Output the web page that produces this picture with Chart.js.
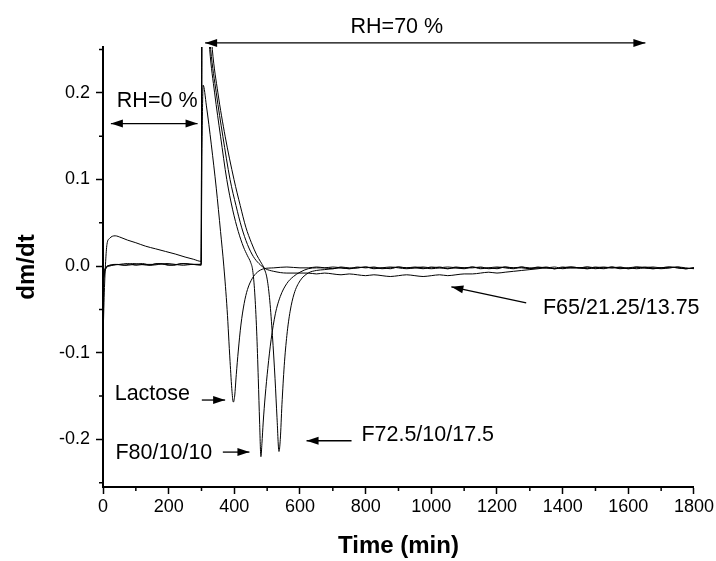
<!DOCTYPE html>
<html>
<head>
<meta charset="utf-8">
<script src="https://cdn.jsdelivr.net/npm/chart.js@4.4.0/dist/chart.umd.min.js"></script>
<style>
  html, body { margin: 0; padding: 0; background: #fff; }
</style>
</head>
<body>
<canvas id="chart" width="716" height="561"></canvas>
<script>
// values: time in min, dm/dt
var lactoseT = [0, 2, 5, 10, 20, 40, 65, 90, 115, 140, 165, 190, 215, 240, 265, 290, 299, 300.5, 302, 305,
  315, 330, 345, 358, 368, 378, 387, 393, 397, 401, 406, 412, 420, 430, 440, 455, 470, 490, 520, 560, 600];
var lactoseV = [-0.035, -0.02, -0.008, -0.002, 0.001, 0.002, 0.001, 0.003, 0.002, 0.001, 0.003, 0.002, 0.001, 0.003, 0.002, 0.002, 0.003, 0.08, 0.15, 0.209,
  0.185, 0.14, 0.09, 0.04, 0.0, -0.05, -0.11, -0.145, -0.157, -0.15, -0.125, -0.098, -0.068, -0.043, -0.027, -0.014, -0.007, -0.003, -0.002, -0.001, -0.002];

var f80T = [0, 3, 8, 20, 45, 70, 95, 120, 145, 170, 195, 220, 245, 270, 299, 300.5, 302, 315, 325, 340,
  358, 377, 395, 412, 428, 440, 450, 456, 462, 468, 473, 477, 481, 484, 488, 494, 502, 512, 525, 540, 560, 580, 600];
var f80V = [-0.02, -0.01, -0.003, 0.0, 0.002, 0.001, 0.002, 0.003, 0.001, 0.002, 0.003, 0.002, 0.001, 0.002, 0.002, 0.2, 0.42, 0.31, 0.25, 0.2,
  0.15, 0.10, 0.065, 0.04, 0.022, 0.012, 0.004, -0.005, -0.03, -0.075, -0.13, -0.18, -0.22, -0.205, -0.18, -0.15, -0.118, -0.085, -0.055, -0.035, -0.02, -0.012, -0.007];

var f725T = [0, 4, 12, 25, 50, 75, 100, 125, 150, 175, 200, 225, 250, 275, 299, 300.5, 302, 320, 333, 350,
  372, 399, 418, 435, 452, 468, 480, 490, 500, 508, 516, 524, 530, 536, 540, 545, 552, 560, 570, 582, 600];
var f725V = [-0.012, -0.005, 0.0, 0.001, 0.002, 0.003, 0.001, 0.002, 0.002, 0.003, 0.001, 0.002, 0.003, 0.002, 0.001, 0.2, 0.45, 0.32, 0.25, 0.2,
  0.15, 0.10, 0.07, 0.045, 0.027, 0.013, 0.005, -0.002, -0.015, -0.04, -0.08, -0.13, -0.175, -0.214, -0.2, -0.16, -0.115, -0.08, -0.052, -0.032, -0.017];

var f65T = [0, 4, 8, 12, 20, 37, 55, 75, 100, 130, 160, 190, 220, 250, 275, 299, 300.5, 302, 318, 328,
  345, 365, 387, 405, 422, 440, 458, 475, 495, 520, 560, 600];
var f65V = [-0.085, -0.03, 0.005, 0.025, 0.032, 0.035, 0.033, 0.030, 0.027, 0.023, 0.020, 0.017, 0.014, 0.0105, 0.008, 0.0055, 0.2, 0.42, 0.3, 0.25,
  0.2, 0.15, 0.10, 0.07, 0.045, 0.025, 0.011, 0.003, -0.003, -0.006, -0.008, -0.008];

// noisy flat part after 600 min, same times for every run
var tailT = [625, 650, 675, 700, 725, 750, 775, 800, 825, 850, 875, 900, 925, 950, 975, 1000,
  1025, 1050, 1075, 1100, 1125, 1150, 1175, 1200, 1225, 1250, 1275, 1300, 1325, 1350, 1375, 1400,
  1425, 1450, 1475, 1500, 1525, 1550, 1575, 1600, 1625, 1650, 1675, 1700, 1725, 1750, 1775, 1800];
var lactoseTail = [-0.002, -0.001, -0.002, -0.003, -0.001, -0.002, -0.002, -0.001, -0.003, -0.002,
  -0.001, -0.002, -0.003, -0.002, -0.001, -0.002, -0.001, -0.003, -0.002, -0.002,
  -0.001, -0.003, -0.002, -0.001, -0.002, -0.003, -0.001, -0.002, -0.002, -0.001,
  -0.003, -0.002, -0.001, -0.002, -0.003, -0.001, -0.002, -0.001, -0.003, -0.002,
  -0.001, -0.002, -0.003, -0.002, -0.001, -0.002, -0.003, -0.002];
var f80Tail = [-0.003, -0.002, -0.002, -0.001, -0.002, -0.003, -0.001, -0.002, -0.001, -0.003,
  -0.002, -0.001, -0.002, -0.002, -0.003, -0.001, -0.002, -0.003, -0.001, -0.002,
  -0.002, -0.001, -0.003, -0.002, -0.001, -0.002, -0.002, -0.003, -0.001, -0.002,
  -0.001, -0.003, -0.002, -0.002, -0.001, -0.003, -0.002, -0.002, -0.001, -0.003,
  -0.002, -0.001, -0.002, -0.003, -0.002, -0.001, -0.002, -0.003];
var f725Tail = [-0.008, -0.005, -0.004, -0.003, -0.002, -0.003, -0.002, -0.001, -0.002, -0.002,
  -0.003, -0.001, -0.002, -0.001, -0.002, -0.003, -0.002, -0.001, -0.002, -0.003,
  -0.001, -0.002, -0.002, -0.003, -0.001, -0.002, -0.001, -0.003, -0.002, -0.002,
  -0.003, -0.001, -0.002, -0.002, -0.001, -0.002, -0.003, -0.001, -0.002, -0.002,
  -0.003, -0.002, -0.001, -0.002, -0.002, -0.001, -0.003, -0.002];
var f65Tail = [-0.008, -0.009, -0.008, -0.009, -0.010, -0.009, -0.010, -0.011, -0.010, -0.011,
  -0.012, -0.011, -0.010, -0.011, -0.012, -0.011, -0.010, -0.011, -0.010, -0.009,
  -0.009, -0.008, -0.007, -0.008, -0.007, -0.006, -0.005, -0.004, -0.003, -0.002,
  -0.003, -0.002, -0.001, -0.002, -0.003, -0.002, -0.001, -0.002, -0.002, -0.003,
  -0.001, -0.002, -0.003, -0.002, -0.001, -0.002, -0.003, -0.002];

var xTicks = [0, 200, 400, 600, 800, 1000, 1200, 1400, 1600, 1800];
var xMinor = [100, 300, 500, 700, 900, 1100, 1300, 1500, 1700];
var yTicks = [-0.2, -0.1, 0, 0.1, 0.2];
var yMinor = [-0.25, -0.15, -0.05, 0.05, 0.15, 0.25];
var yMin = -0.255, yMax = 0.253;

var FONT = '"Liberation Sans", Arial, sans-serif';

function toPoints(ts, vs, tt, tv) {
  var pts = ts.map(function(t, i) { return {x: t, y: vs[i]}; });
  tt.forEach(function(t, i) { pts.push({x: t, y: tv[i]}); });
  return pts;
}

function run(name, pts) {
  return {
    label: name,
    data: pts,
    borderColor: '#000',
    borderWidth: 1,
    pointRadius: 0,
    fill: false,
    cubicInterpolationMode: 'monotone'
  };
}

function arrowHead(ctx, x1, y1, x2, y2) {
  // filled head at (x2, y2)
  var a = Math.atan2(y2 - y1, x2 - x1), len = 12, hw = 4;
  ctx.beginPath();
  ctx.moveTo(x2, y2);
  ctx.lineTo(x2 - len * Math.cos(a) + hw * Math.sin(a), y2 - len * Math.sin(a) - hw * Math.cos(a));
  ctx.lineTo(x2 - len * Math.cos(a) - hw * Math.sin(a), y2 - len * Math.sin(a) + hw * Math.cos(a));
  ctx.closePath();
  ctx.fill();
}

// minor ticks, half length of the major ones
var minorTicks = {
  id: 'minorTicks',
  afterDraw: function(chart) {
    var ctx = chart.ctx, xs = chart.scales.x, ys = chart.scales.y, a = chart.chartArea;
    ctx.save();
    ctx.strokeStyle = '#000';
    ctx.lineWidth = 1.5;
    ctx.beginPath();
    xMinor.forEach(function(v) {
      var px = xs.getPixelForValue(v);
      ctx.moveTo(px, a.bottom);
      ctx.lineTo(px, a.bottom + 4);
    });
    yMinor.forEach(function(v) {
      var py = ys.getPixelForValue(v);
      ctx.moveTo(a.left, py);
      ctx.lineTo(a.left - 4, py);
    });
    ctx.stroke();
    ctx.restore();
  }
};

// labels and arrows written on the plot
var notes = {
  id: 'notes',
  afterDraw: function(chart) {
    var ctx = chart.ctx, xs = chart.scales.x, ys = chart.scales.y;
    var texts = [
      {t: 'RH=0 %', x: 165, y: 0.1835, align: 'center'},
      {t: 'RH=70 %', x: 895, y: 0.2686, align: 'center'},
      {t: 'Lactose', x: 265, y: -0.1546, align: 'right'},
      {t: 'F80/10/10', x: 38, y: -0.2231, align: 'left'},
      {t: 'F72.5/10/17.5', x: 787, y: -0.2024, align: 'left'},
      {t: 'F65/21.25/13.75', x: 1340, y: -0.0554, align: 'left'}
    ];
    var arrows = [
      {x1: 24, y1: 0.1646, x2: 288, y2: 0.1646, both: true},
      {x1: 311, y1: 0.2577, x2: 1652, y2: 0.2577, both: true},
      {x1: 301, y1: -0.1546, x2: 372, y2: -0.1546},
      {x1: 365, y1: -0.2147, x2: 446, y2: -0.2147},
      {x1: 757, y1: -0.2016, x2: 620, y2: -0.2016},
      {x1: 1289, y1: -0.0424, x2: 1061, y2: -0.0239}
    ];
    ctx.save();
    ctx.fillStyle = '#000';
    ctx.strokeStyle = '#000';
    ctx.lineWidth = 1.3;
    ctx.font = '21.5px ' + FONT;
    ctx.textBaseline = 'alphabetic';
    texts.forEach(function(n) {
      ctx.textAlign = n.align;
      ctx.fillText(n.t, xs.getPixelForValue(n.x), ys.getPixelForValue(n.y));
    });
    arrows.forEach(function(r) {
      var x1 = xs.getPixelForValue(r.x1), y1 = ys.getPixelForValue(r.y1);
      var x2 = xs.getPixelForValue(r.x2), y2 = ys.getPixelForValue(r.y2);
      ctx.beginPath();
      ctx.moveTo(x1, y1);
      ctx.lineTo(x2, y2);
      ctx.stroke();
      arrowHead(ctx, x1, y1, x2, y2);
      if (r.both) arrowHead(ctx, x2, y2, x1, y1);
    });
    ctx.restore();
  }
};

var ctx = document.getElementById('chart').getContext('2d');
var chart = new Chart(ctx, {
  type: 'line',
  data: {
    datasets: [
      run('Lactose', toPoints(lactoseT, lactoseV, tailT, lactoseTail)),
      run('F80/10/10', toPoints(f80T, f80V, tailT, f80Tail)),
      run('F72.5/10/17.5', toPoints(f725T, f725V, tailT, f725Tail)),
      run('F65/21.25/13.75', toPoints(f65T, f65V, tailT, f65Tail))
    ]
  },
  options: {
    responsive: false,
    animation: false,
    layout: { padding: { top: 47, right: 21, left: 0, bottom: 0 } },
    plugins: { legend: { display: false }, tooltip: { enabled: false } },
    scales: {
      x: {
        type: 'linear',
        min: 0,
        max: 1800,
        afterBuildTicks: function(axis) { axis.ticks = xTicks.map(function(v) { return {value: v}; }); },
        afterFit: function(scale) { scale.height = 74; },
        border: { display: true, color: '#000', width: 2 },
        grid: { drawOnChartArea: false, drawTicks: true, tickLength: 7, tickColor: '#000', tickWidth: 1.5 },
        ticks: {
          color: '#000',
          font: { family: FONT, size: 18 },
          padding: 2,
          maxRotation: 0,
          autoSkip: false,
          callback: function(v) { return String(v); }
        },
        title: { display: true, text: 'Time (min)', color: '#000', font: { family: FONT, size: 24, weight: 'bold' }, padding: { top: 0, bottom: 0 } }
      },
      y: {
        min: yMin,
        max: yMax,
        afterBuildTicks: function(axis) { axis.ticks = yTicks.map(function(v) { return {value: v}; }); },
        afterFit: function(scale) { scale.width = 103; },
        border: { display: true, color: '#000', width: 2 },
        grid: { drawOnChartArea: false, drawTicks: true, tickLength: 7, tickColor: '#000', tickWidth: 1.5 },
        ticks: {
          color: '#000',
          font: { family: FONT, size: 18 },
          padding: 6,
          callback: function(v) { return v.toFixed(1); }
        },
        title: { display: true, text: 'dm/dt', color: '#000', font: { family: FONT, size: 24, weight: 'bold' }, padding: { top: 13, bottom: 0 } }
      }
    }
  },
  plugins: [minorTicks, notes]
});
</script>
</body>
</html>
